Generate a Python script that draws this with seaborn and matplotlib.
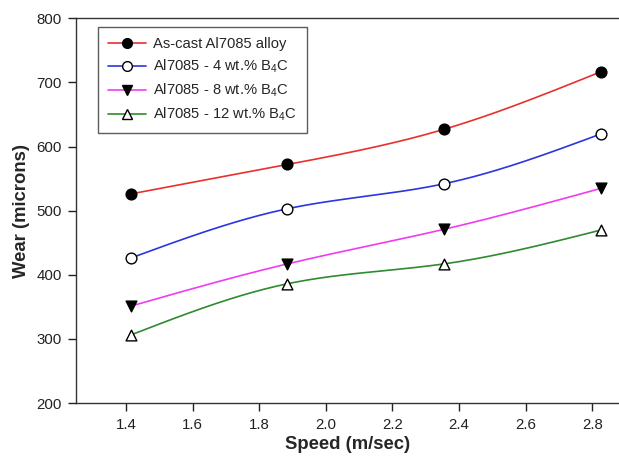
import numpy as np
import pandas as pd
import matplotlib
matplotlib.use("Agg")
import matplotlib.pyplot as plt
from matplotlib.lines import Line2D
import seaborn as sns

# Sliding speed (m/sec) and wear loss (microns) for each material
speed = [1.414, 1.885, 2.356, 2.828]
wear_ascast = [526, 572, 627, 717]
wear_4b4c = [426, 503, 542, 620]
wear_8b4c = [351, 417, 471, 535]
wear_12b4c = [306, 386, 417, 470]

labels = ["As-cast Al7085 alloy",
          "Al7085 - 4 wt.% B$_4$C",
          "Al7085 - 8 wt.% B$_4$C",
          "Al7085 - 12 wt.% B$_4$C"]

x_ticks = [1.4, 1.6, 1.8, 2.0, 2.2, 2.4, 2.6, 2.8]
y_ticks = [200, 300, 400, 500, 600, 700, 800]

sns.set_style("ticks")
plt.rcParams["font.family"] = ["Liberation Sans", "DejaVu Sans"]
plt.rcParams["mathtext.default"] = "regular"

series = [
    (wear_ascast, "#e8302c", "o", "black"),
    (wear_4b4c, "#2b35e0", "o", "white"),
    (wear_8b4c, "#f03cf0", "v", "black"),
    (wear_12b4c, "#2e8b2e", "^", "white"),
]

df = pd.DataFrame({
    "speed": speed * 4,
    "wear": wear_ascast + wear_4b4c + wear_8b4c + wear_12b4c,
    "material": sum([[lab] * len(speed) for lab in labels], []),
})


def natural_spline(x, y, xs):
    """Natural cubic spline through (x, y), evaluated at xs (for a smooth connecting curve)."""
    x = np.asarray(x, float)
    y = np.asarray(y, float)
    n = len(x)
    h = np.diff(x)
    A = np.zeros((n, n))
    r = np.zeros(n)
    A[0, 0] = A[-1, -1] = 1.0
    for i in range(1, n - 1):
        A[i, i - 1] = h[i - 1]
        A[i, i] = 2 * (h[i - 1] + h[i])
        A[i, i + 1] = h[i]
        r[i] = 3 * ((y[i + 1] - y[i]) / h[i] - (y[i] - y[i - 1]) / h[i - 1])
    c = np.linalg.solve(A, r)
    b = (y[1:] - y[:-1]) / h - h * (2 * c[:-1] + c[1:]) / 3
    d = (c[1:] - c[:-1]) / (3 * h)
    idx = np.clip(np.searchsorted(x, xs) - 1, 0, n - 2)
    t = xs - x[idx]
    return y[idx] + b[idx] * t + c[idx] * t ** 2 + d[idx] * t ** 3


fig = plt.figure(figsize=(6.19, 4.59), dpi=100)
ax = fig.add_axes([76 / 619, 1 - 403 / 459, 1 - 76 / 619, (403 - 18.3) / 459])

xs = np.linspace(speed[0], speed[-1], 200)
handles = []
for (vals, col, mk, fc), lab in zip(series, labels):
    ax.plot(xs, natural_spline(speed, vals, xs), color=col, lw=1.2, zorder=2)
    sub = df[df["material"] == lab]
    sns.scatterplot(data=sub, x="speed", y="wear", ax=ax, marker=mk, s=60,
                    color=fc, edgecolor="black", linewidth=1.0, zorder=3,
                    legend=False)
    handles.append(Line2D([0], [0], color=col, lw=1.2, marker=mk, markersize=7,
                          markerfacecolor=fc, markeredgecolor="black",
                          markeredgewidth=1.0))

ax.set_xlim(1.25, 1.25 + 543 / 333)
ax.set_ylim(200, 800)
ax.set_xticks(x_ticks)
ax.set_xticklabels([f"{v:.1f}" for v in x_ticks])
ax.set_yticks(y_ticks)
ax.tick_params(axis="both", direction="out", length=6, width=1, labelsize=10.8,
               colors="#222222", pad=4)
ax.tick_params(axis="x", pad=5)

for side in ["left", "bottom", "top"]:
    ax.spines[side].set_color("#333333")
    ax.spines[side].set_linewidth(1.0)
ax.spines["right"].set_visible(False)

ax.set_xlabel("Speed (m/sec)", fontsize=13.3, fontweight="bold", labelpad=3)
ax.set_ylabel("Wear (microns)", fontsize=13.3, fontweight="bold", labelpad=5)

leg = ax.legend(handles, labels, loc="upper left",
                bbox_to_anchor=((98 - 76) / 543, 1 - (27.5 - 18.3) / 385),
                fontsize=10.6, frameon=True, fancybox=False, borderpad=0.65,
                handlelength=2.6, handletextpad=0.5, labelspacing=0.45,
                borderaxespad=0)
leg.get_frame().set_edgecolor("#333333")
leg.get_frame().set_linewidth(1.0)

fig.savefig("out.png", dpi=100)
